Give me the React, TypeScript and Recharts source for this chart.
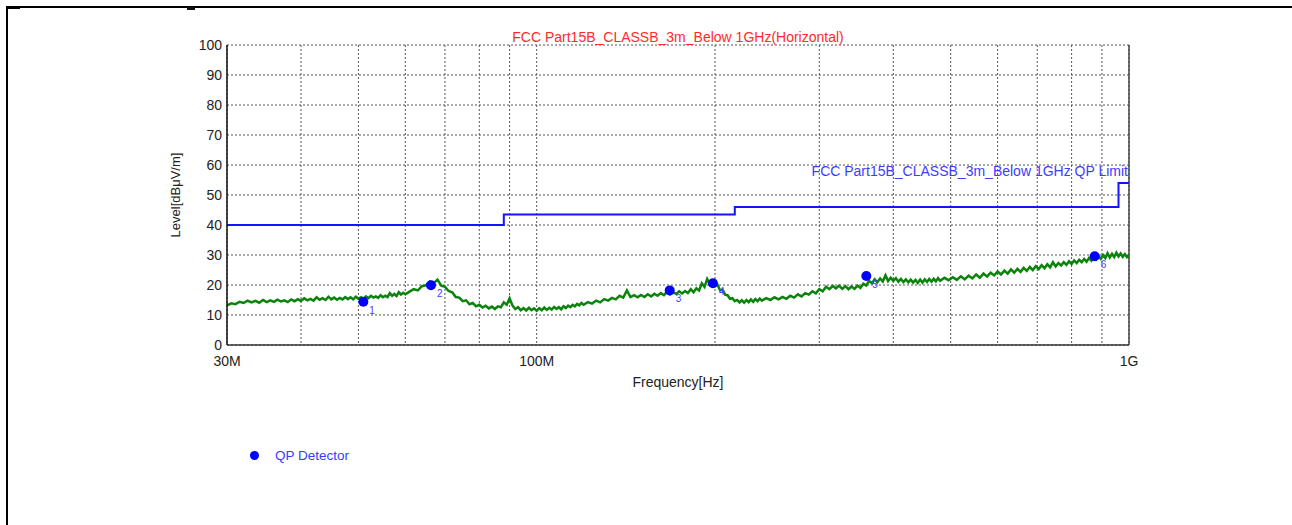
import {
  CartesianGrid,
  ComposedChart,
  Line,
  ReferenceLine,
  Scatter,
  XAxis,
  YAxis
} from "recharts";

const TRACE_FREQ = [
  30, 30.5, 31, 31.5, 32, 32.5, 33, 33.5, 34, 34.5, 35, 35.5, 36, 36.5, 37, 37.5, 38, 38.5, 39, 39.5,
  40, 40.5, 41, 41.5, 42, 42.5, 43, 43.5, 44, 44.5, 45, 45.5, 46, 46.5, 47, 47.5, 48, 48.5, 49, 49.5,
  50, 50.5, 51, 51.5, 52, 52.5, 53, 53.5, 54, 54.5, 55, 55.5, 56, 56.5, 57, 57.5, 58, 58.5, 59, 59.5, 60,
  61, 62, 63, 64, 65, 66, 67, 68, 69, 70, 71, 72, 73, 74, 75, 76, 77, 78, 79, 80,
  81, 82, 83, 84, 85, 86, 87, 88, 89, 90, 91, 92, 93, 94, 95, 96, 97, 98, 99, 100,
  101, 102, 103, 104, 105, 106, 107, 108, 109, 110, 111, 112, 113, 114, 115, 116, 117, 118, 119, 120,
  122, 124, 126, 128, 130, 132, 134, 136, 138, 140, 142, 144, 146, 148, 150, 152, 154, 156, 158, 160,
  162, 164, 166, 168, 170, 172, 174, 176, 178, 180, 182, 184, 186, 188, 190, 192, 194, 196, 198, 200,
  202, 204, 206, 208, 210, 212, 214, 216, 218, 220, 222, 224, 226, 228, 230, 232, 234, 236, 238, 240,
  244, 248, 252, 256, 260, 264, 268, 272, 276, 280, 284, 288, 292, 296, 300, 304, 308, 312, 316, 320,
  324, 328, 332, 336, 340, 344, 348, 352, 356, 360, 364, 368, 372, 376, 380, 384, 388, 392, 396, 400,
  404, 408, 412, 416, 420, 424, 428, 432, 436, 440, 444, 448, 452, 456, 460, 464, 468, 472, 476, 480,
  488, 496, 504, 512, 520, 528, 536, 544, 552, 560, 568, 576, 584, 592, 600, 608,
  616, 624, 632, 640, 648, 656, 664, 672, 680, 688, 696, 704, 712, 720, 728, 736,
  744, 752, 760, 768, 776, 784, 792, 800, 808, 816, 824, 832, 840, 848, 856, 864,
  872, 880, 888, 896, 904, 912, 920, 928, 936, 944, 952, 960, 968, 976, 984, 992, 1000
];

const TRACE_LEVEL = [
  13.2, 13.9, 13.6, 14.4, 14.0, 14.8, 14.2, 14.7, 14.1, 15.0, 14.3, 14.9, 14.4, 15.1, 14.5, 14.9, 14.3, 15.2, 14.6, 15.3,
  14.7, 15.6, 14.9, 15.4, 14.8, 15.9, 15.1, 15.6, 15.0, 16.1, 15.2, 15.8, 15.1, 15.7, 15.2, 16.0, 15.3, 15.9, 15.2, 16.1,
  15.4, 15.9, 15.3, 16.2, 15.6, 16.4, 15.8, 16.2, 15.7, 16.6, 15.9, 16.4, 16.0, 17.3, 16.4, 17.0, 16.3, 17.6, 16.8, 17.4, 16.9,
  17.8, 18.6, 18.2, 19.6, 19.9, 21.2, 20.6, 21.8, 19.8, 19.4, 18.0, 17.6, 16.0, 15.8, 14.6, 14.9, 13.6, 14.0, 12.9, 13.4,
  12.5, 13.1, 12.2, 12.8, 12.0, 12.9, 12.6, 14.2, 13.4, 15.6, 13.2, 12.0, 12.6, 11.6, 12.3, 11.5, 12.4, 11.6, 12.2, 11.4,
  12.3, 11.6, 12.5, 11.7, 12.4, 11.8, 12.7, 12.0, 12.6, 11.9, 12.9, 12.3, 13.1, 12.6, 13.4, 12.9, 13.7, 13.2, 14.0, 13.4,
  14.3, 13.8, 14.8, 14.2, 15.3, 14.8, 15.7, 15.2, 16.4, 15.8, 18.2, 16.0, 16.6, 15.9, 16.7, 16.0, 16.9, 16.2, 17.1, 16.4,
  17.3, 16.6, 17.8, 16.9, 17.6, 17.0, 17.9, 17.2, 18.0, 17.3, 18.6, 17.6, 18.9, 18.2, 20.6, 19.4, 22.0, 20.2, 21.2, 19.6,
  20.0, 18.2, 18.4, 16.8, 16.6, 15.4, 15.6, 14.6, 15.0, 14.2, 14.9, 14.1, 15.0, 14.3, 15.2, 14.4, 15.3, 14.6, 15.5, 14.8,
  15.6, 15.0, 15.9, 15.2, 16.0, 15.4, 16.4, 15.8, 16.9, 16.2, 17.3, 16.8, 17.9, 17.2, 18.6, 17.9, 19.4, 18.6, 19.7, 18.9,
  19.8, 18.7, 19.6, 18.6, 19.5, 18.7, 19.8, 19.0, 20.4, 19.8, 21.4, 20.6, 21.9, 20.9, 22.2, 21.2, 23.2, 21.3, 22.4, 21.4,
  22.3, 21.1, 22.0, 21.0, 21.9, 20.9, 21.8, 20.8, 21.7, 20.7, 21.8, 20.8, 21.9, 21.0, 22.0, 21.1, 22.1, 21.2, 22.3, 21.4,
  22.4, 21.6, 22.6, 21.7, 22.9, 21.9, 23.1, 22.2, 23.5, 22.4, 23.8, 22.8, 24.1, 23.2, 24.5, 23.5,
  24.8, 23.8, 25.2, 24.1, 25.4, 24.4, 25.7, 24.7, 26.0, 25.0, 26.3, 25.3, 26.6, 25.6, 26.9, 25.9,
  27.6, 26.2, 27.3, 26.5, 27.6, 26.7, 27.9, 27.0, 28.2, 27.3, 28.4, 27.6, 28.7, 27.8, 29.0, 28.1,
  29.3, 28.5, 29.6, 28.7, 30.0, 29.0, 30.6, 29.2, 30.4, 29.3, 30.8, 29.5, 30.5, 29.4, 30.3, 29.3, 29.9
];

// FCC Part 15B class B @3m QP limit (step after each corner)
const LIMIT_FREQ = [30, 88, 216, 960, 1000];
const LIMIT_LEVEL = [40, 43.5, 46, 54, 54];

// QP detector readings
const QP_FREQ = [50.97, 66.3, 167.7, 198.4, 360.2, 875];
const QP_LEVEL = [14.4, 19.9, 18.2, 20.6, 23.0, 29.6];
const QP_LABELS = ["1", "2", "3", "4", "5", "6"];

const X_TICKS = [30, 40, 50, 60, 70, 80, 90, 100, 200, 300, 400, 500, 600, 700, 800, 900, 1000];
const X_TICK_LABELS: Record<number, string> = { 30: "30M", 100: "100M", 1000: "1G" };
const Y_TICKS = [0, 10, 20, 30, 40, 50, 60, 70, 80, 90, 100];

const traceData = TRACE_FREQ.map((freq, i) => ({ freq, level: TRACE_LEVEL[i] }));
const limitData = LIMIT_FREQ.map((freq, i) => ({ freq, level: LIMIT_LEVEL[i] }));
const qpData = QP_FREQ.map((freq, i) => ({ freq, level: QP_LEVEL[i], label: QP_LABELS[i] }));

const FONT = "'Liberation Sans', Arial, sans-serif";

function QpMarker(props: any) {
  const { cx, cy, payload } = props;
  if (cx == null || cy == null) return null;
  return (
    <g>
      <circle cx={cx} cy={cy} r={5} fill="#0000ff" />
      <text x={cx + 6} y={cy + 12} fontSize={10} fontFamily={FONT} fill="#4a3cff">
        {payload.label}
      </text>
    </g>
  );
}

export default function App() {
  return (
    <div
      style={{
        position: "absolute",
        left: 0,
        top: 0,
        width: 1292,
        height: 525,
        background: "#fff",
        overflow: "hidden",
        fontFamily: FONT
      }}
    >
      {/* page frame, top and left edges */}
      <svg
        width={1292}
        height={525}
        style={{ position: "absolute", left: 0, top: 0, pointerEvents: "none" }}
      >
        <rect x={6} y={6} width={1286} height={2} fill="#000" />
        <rect x={6} y={6} width={2} height={519} fill="#000" />
        <rect x={6} y={6} width={14} height={3} fill="#000" />
        <rect x={187} y={7} width={8} height={3} fill="#111" />
      </svg>

      <ComposedChart
        width={1292}
        height={525}
        margin={{ top: 45, right: 163, bottom: 150, left: 167 }}
        style={{ position: "absolute", left: 0, top: 0 }}
      >
        <CartesianGrid stroke="#555" strokeDasharray="2 2" strokeWidth={1} />
        <XAxis
          dataKey="freq"
          type="number"
          scale="log"
          domain={[30, 1000]}
          allowDataOverflow
          ticks={X_TICKS}
          interval={0}
          tickFormatter={(v: number) => X_TICK_LABELS[v] ?? ""}
          tickLine={false}
          tickSize={0}
          tickMargin={11}
          height={30}
          axisLine={{ stroke: "#333", strokeWidth: 1.5 }}
          tick={{ fill: "#222", fontSize: 14, fontFamily: FONT }}
        />
        <YAxis
          type="number"
          domain={[0, 100]}
          ticks={Y_TICKS}
          interval={0}
          width={60}
          tickLine={false}
          tickSize={0}
          tickMargin={5}
          axisLine={{ stroke: "#111", strokeWidth: 1.5 }}
          tick={{ fill: "#222", fontSize: 14, fontFamily: FONT }}
        />
        <ReferenceLine x={1000} stroke="#444" strokeWidth={1.5} />
        <Line
          data={traceData}
          dataKey="level"
          type="linear"
          stroke="#0a840a"
          strokeWidth={2.5}
          dot={false}
          isAnimationActive={false}
        />
        <Line
          data={limitData}
          dataKey="level"
          type="stepAfter"
          stroke="#1414ff"
          strokeWidth={2}
          dot={false}
          isAnimationActive={false}
        />
        <Scatter data={qpData} dataKey="level" shape={<QpMarker />} isAnimationActive={false} />
      </ComposedChart>

      {/* titles and axis names */}
      <div
        style={{
          position: "absolute",
          left: 678,
          top: 29,
          transform: "translateX(-50%)",
          whiteSpace: "nowrap",
          color: "#ff2a2a",
          fontSize: 14
        }}
      >
        FCC Part15B_CLASSB_3m_Below 1GHz(Horizontal)
      </div>
      <div
        style={{
          position: "absolute",
          right: 1292 - 1128,
          top: 163,
          whiteSpace: "nowrap",
          color: "#3c3cff",
          fontSize: 14
        }}
      >
        FCC Part15B_CLASSB_3m_Below 1GHz QP Limit
      </div>
      <div
        style={{
          position: "absolute",
          left: 678,
          top: 374,
          transform: "translateX(-50%)",
          whiteSpace: "nowrap",
          color: "#222",
          fontSize: 14
        }}
      >
        Frequency[Hz]
      </div>
      <div
        style={{
          position: "absolute",
          left: 175,
          top: 195,
          transform: "translate(-50%, -50%) rotate(-90deg)",
          whiteSpace: "nowrap",
          color: "#222",
          fontSize: 13
        }}
      >
        Level[dBμV/m]
      </div>

      {/* legend */}
      <div style={{ position: "absolute", left: 250, top: 448, display: "flex", alignItems: "center" }}>
        <span
          style={{ display: "inline-block", width: 9, height: 9, borderRadius: "50%", background: "#0000ff" }}
        />
        <span style={{ marginLeft: 16, color: "#3a3aff", fontSize: 13.5 }}>QP Detector</span>
      </div>
    </div>
  );
}
